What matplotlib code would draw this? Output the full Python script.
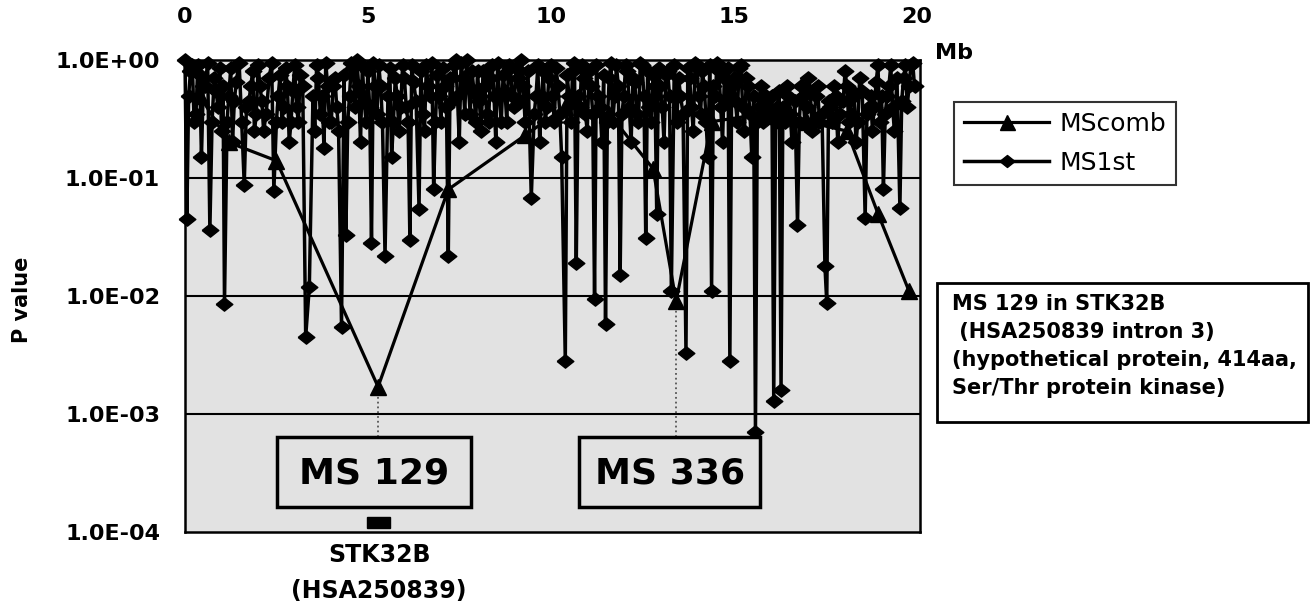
import matplotlib
matplotlib.use('Agg')
import matplotlib.pyplot as plt
from matplotlib.patches import Rectangle
from matplotlib.ticker import NullLocator

# ---------------- data ----------------
x_ticks = [0, 5, 10, 15, 20]
x_tick_labels = ['0', '5', '10', '15', '20']
y_ticks = [1e-4, 1e-3, 1e-2, 1e-1, 1e0]
y_tick_labels = ['1.0E-04', '1.0E-03', '1.0E-02', '1.0E-01', '1.0E+00']

# MScomb (triangles)
comb_x = [0.4, 1.2, 2.5, 5.28, 7.2, 9.3, 10.4, 11.6, 12.8, 13.43, 14.4, 15.8, 17.0, 18.1, 18.95, 19.8]
comb_p = [0.5, 0.2, 0.14, 0.0017, 0.08, 0.23, 0.4, 0.35, 0.12, 0.009, 0.3, 0.35, 0.3, 0.25, 0.05, 0.011]

# MS1st (diamonds) - markers with clear low values
ms1_x = [0.00, 0.05, 0.15, 0.25, 0.35, 0.45, 0.55, 0.68, 0.80, 0.90,
         1.00, 1.08, 1.20, 1.30, 1.40, 1.55, 1.62, 1.75, 1.85, 1.95,
         2.05, 2.15, 2.30, 2.43, 2.55, 2.65, 2.75, 2.85, 2.95,
         3.05, 3.15, 3.30, 3.40, 3.50, 3.60, 3.70, 3.80, 3.90,
         4.00, 4.10, 4.20, 4.28, 4.40, 4.50, 4.60, 4.70, 4.80, 4.90,
         5.00, 5.10, 5.20, 5.30, 5.40, 5.47, 5.55, 5.65, 5.75, 5.85, 5.95,
         6.05, 6.15, 6.25, 6.40, 6.50, 6.60, 6.70, 6.80, 6.90,
         7.00, 7.10, 7.20, 7.30, 7.40, 7.50, 7.60, 7.70, 7.80, 7.90,
         8.00, 8.10, 8.20, 8.30, 8.40, 8.50, 8.60, 8.70, 8.80, 8.90,
         9.00, 9.10, 9.20, 9.30, 9.47, 9.60, 9.70, 9.80, 9.90,
         10.0, 10.1, 10.2, 10.3, 10.4, 10.5, 10.6, 10.7, 10.8, 10.9,
         11.0, 11.1, 11.2, 11.3, 11.4, 11.5, 11.6, 11.7, 11.8, 11.9,
         12.0, 12.1, 12.2, 12.3, 12.4, 12.5, 12.6, 12.7, 12.8, 12.9,
         13.0, 13.1, 13.2, 13.3, 13.45, 13.55, 13.7, 13.8, 13.9,
         14.0, 14.1, 14.2, 14.3, 14.4, 14.5, 14.6, 14.7, 14.8, 14.9,
         15.0, 15.1, 15.2, 15.3, 15.4, 15.5, 15.6, 15.7, 15.8, 15.9,
         16.0, 16.1, 16.2, 16.3, 16.4, 16.5, 16.6, 16.75, 16.85, 16.95,
         17.05, 17.15, 17.25, 17.35, 17.5, 17.55, 17.65, 17.75, 17.85, 17.95,
         18.05, 18.15, 18.25, 18.35, 18.45, 18.6, 18.7, 18.8, 18.9,
         19.0, 19.1, 19.2, 19.3, 19.4, 19.55, 19.65, 19.75, 19.85, 19.95]
ms1_p = [1.0, 0.045, 0.8, 0.3, 0.9, 0.15, 0.6, 0.036, 0.7, 0.4,
         0.25, 0.0085, 0.5, 0.2, 0.65, 0.3, 0.088, 0.45, 0.8, 0.35,
         0.6, 0.25, 0.7, 0.078, 0.5, 0.3, 0.85, 0.2, 0.55,
         0.4, 0.75, 0.0045, 0.012, 0.5, 0.9, 0.35, 0.18, 0.6,
         0.3, 0.7, 0.25, 0.0055, 0.033, 0.5, 0.85, 1.0, 0.2, 0.45,
         0.8, 0.028, 0.6, 0.9, 0.3, 0.022, 0.5, 0.15, 0.7, 0.25, 0.9,
         0.4, 0.03, 0.65, 0.055, 0.35, 0.9, 0.5, 0.08, 0.75,
         0.3, 0.6, 0.022, 0.45, 1.0, 0.2, 0.7, 1.0, 0.35, 0.55,
         0.8, 0.25, 0.6, 0.3, 0.9, 0.2, 0.5, 0.75, 0.3, 0.85,
         0.4, 0.7, 1.0, 0.3, 0.068, 0.5, 0.2, 0.8, 0.4,
         0.9, 0.3, 0.6, 0.15, 0.0028, 0.5, 0.8, 0.019, 0.4, 0.7,
         0.25, 0.6, 0.0094, 0.5, 0.2, 0.0058, 0.7, 0.3, 0.9, 0.015,
         0.5, 0.8, 0.2, 0.65, 0.3, 0.9, 0.031, 0.4, 0.75, 0.05,
         0.6, 0.2, 0.8, 0.011, 0.3, 0.5, 0.0033, 0.7, 0.25,
         0.9, 0.35, 0.6, 0.15, 0.011, 0.5, 0.8, 0.2, 0.45, 0.0028,
         0.7, 0.3, 0.9, 0.25, 0.6, 0.15, 0.0007, 0.4, 0.3, 0.5,
         0.35, 0.0013, 0.4, 0.0016, 0.3, 0.5, 0.2, 0.04, 0.6, 0.3,
         0.7, 0.25, 0.5, 0.3, 0.018, 0.0088, 0.4, 0.6, 0.2, 0.45,
         0.8, 0.3, 0.55, 0.2, 0.7, 0.046, 0.4, 0.25, 0.65,
         0.3, 0.08, 0.5, 0.9, 0.25, 0.056, 0.7, 0.4, 0.9, 0.6]

# MS1st (diamonds) - further markers inside the dense upper band
ms1_band_x = [0.10, 0.20, 0.30, 0.40, 0.50, 0.62, 0.74, 0.85, 0.95,
              1.04, 1.15, 1.25, 1.35, 1.48, 1.68, 1.80, 1.90,
              2.00, 2.10, 2.22, 2.37, 2.50, 2.60, 2.70, 2.80, 2.90,
              3.00, 3.10, 3.22, 3.55, 3.65, 3.75, 3.85, 3.95,
              4.05, 4.15, 4.35, 4.45, 4.55, 4.65, 4.75, 4.85, 4.95,
              5.05, 5.15, 5.25, 5.35, 5.60, 5.70, 5.80, 5.90,
              6.00, 6.10, 6.20, 6.32, 6.45, 6.55, 6.65, 6.75, 6.85, 6.95,
              7.05, 7.15, 7.25, 7.35, 7.45, 7.55, 7.65, 7.75, 7.85, 7.95,
              8.05, 8.15, 8.25, 8.35, 8.45, 8.55, 8.65, 8.75, 8.85, 8.95,
              9.05, 9.15, 9.25, 9.38, 9.55, 9.65, 9.75, 9.85, 9.95,
              10.05, 10.15, 10.25, 10.45, 10.55, 10.65, 10.75, 10.85, 10.95,
              11.05, 11.15, 11.25, 11.35, 11.45, 11.55, 11.65, 11.75, 11.85, 11.95,
              12.05, 12.15, 12.25, 12.35, 12.45, 12.55, 12.65, 12.75, 12.85, 12.95,
              13.05, 13.15, 13.25, 13.38, 13.5, 13.62, 13.75, 13.85, 13.95,
              14.05, 14.15, 14.25, 14.35, 14.45, 14.55, 14.65, 14.75, 14.85, 14.95,
              15.05, 15.15, 15.25, 15.35, 15.45, 15.55, 15.65, 15.75, 15.85, 15.95,
              16.05, 16.15, 16.25, 16.35, 16.45, 16.55, 16.68, 16.8, 16.9,
              17.0, 17.1, 17.2, 17.3, 17.42, 17.6, 17.7, 17.8, 17.9,
              18.0, 18.1, 18.2, 18.3, 18.4, 18.52, 18.65, 18.75, 18.85, 18.95,
              19.05, 19.15, 19.25, 19.35, 19.47, 19.6, 19.7, 19.8, 19.9]
ms1_band_p = [0.5, 0.9, 0.35, 0.75, 0.6, 0.95, 0.3, 0.55, 0.85,
              0.6, 0.3, 0.85, 0.45, 0.95, 0.4, 0.6, 0.25,
              0.9, 0.45, 0.35, 0.95, 0.3, 0.75, 0.4, 0.6, 0.3,
              0.9, 0.3, 0.6, 0.25, 0.7, 0.5, 0.95, 0.3,
              0.6, 0.4, 0.75, 0.3, 0.95, 0.4, 0.6, 0.9, 0.3,
              0.4, 0.95, 0.35, 0.6, 0.85, 0.3, 0.5, 0.4,
              0.7, 0.3, 0.9, 0.45, 0.8, 0.25, 0.6, 0.95, 0.3, 0.5,
              0.85, 0.4, 0.7, 0.9, 0.5, 0.95, 0.35, 0.6, 0.8, 0.3,
              0.45, 0.8, 0.35, 0.7, 0.5, 0.95, 0.3, 0.55, 0.9, 0.5,
              0.85, 0.45, 0.6, 0.8, 0.35, 0.9, 0.5, 0.3, 0.7,
              0.5, 0.85, 0.35, 0.75, 0.3, 0.95, 0.5, 0.9, 0.35,
              0.8, 0.35, 0.9, 0.4, 0.75, 0.3, 0.95, 0.5, 0.6, 0.35,
              0.9, 0.4, 0.7, 0.35, 0.95, 0.5, 0.8, 0.3, 0.6, 0.85,
              0.4, 0.75, 0.5, 0.9, 0.7, 0.35, 0.85, 0.4, 0.95,
              0.5, 0.8, 0.3, 0.9, 0.6, 0.95, 0.4, 0.7, 0.85, 0.6,
              0.45, 0.85, 0.4, 0.7, 0.35, 0.5, 0.3, 0.6, 0.45, 0.35,
              0.5, 0.3, 0.55, 0.4, 0.6, 0.35, 0.45, 0.3, 0.5,
              0.4, 0.55, 0.3, 0.6, 0.35, 0.45, 0.3, 0.5, 0.35,
              0.45, 0.6, 0.35, 0.5, 0.3, 0.55, 0.35, 0.5, 0.4, 0.9,
              0.5, 0.35, 0.6, 0.4, 0.7, 0.45, 0.9, 0.6, 0.95]

gene_start, gene_end = 4.98, 5.60   # STK32B position (Mb)
ms129_pos, ms336_pos = 5.28, 13.43

# MS1st series ordered by position
ms1_pts = sorted(zip(ms1_x + ms1_band_x, ms1_p + ms1_band_p))
ms1_all_x = [p[0] for p in ms1_pts]
ms1_all_p = [p[1] for p in ms1_pts]

# ---------------- figure ----------------
W, H = 1310, 612
fig = plt.figure(figsize=(W / 100, H / 100), dpi=100)
fx = lambda px: px / W
fy = lambda py: 1 - py / H

BG = '#e2e2e2'
ax = fig.add_axes([fx(185), fy(532), fx(920) - fx(185), fy(60) - fy(532)])
ax.set_facecolor(BG)
ax.set_yscale('log')
ax.set_ylim(1e-4, 1)
ax.set_xlim(0, 20.1)
for s in ax.spines.values():
    s.set_linewidth(1.8)
    s.set_color('black')

for v in y_ticks[1:-1]:
    ax.axhline(v, color='black', lw=1.5, zorder=1)

diamond = [(-1, 0), (0, 0.8), (1, 0), (0, -0.8), (-1, 0)]
l1, = ax.plot(comb_x, comb_p, color='black', lw=2.3, marker='^', ms=12,
              zorder=3, clip_on=False, label='MScomb')
l2, = ax.plot(ms1_all_x, ms1_all_p, color='black', lw=2.5, marker=diamond, ms=12,
              zorder=4, clip_on=False, label='MS1st')

# dotted guide lines
ax.plot([ms129_pos, ms129_pos], [6.4e-4, 1.6e-3], ls=':', color='#555555', lw=1.3, zorder=2)
ax.plot([ms336_pos, ms336_pos], [6.4e-4, 9e-3], ls=':', color='#555555', lw=1.3, zorder=2)

# gene block
ax.add_patch(Rectangle((gene_start, 1.08e-4), gene_end - gene_start, 1.34e-4 - 1.08e-4,
                       color='black', zorder=5))

ax.xaxis.tick_top()
ax.set_xticks(x_ticks)
ax.set_xticklabels(x_tick_labels, fontsize=16, fontweight='bold')
ax.set_yticks(y_ticks)
ax.set_yticklabels(y_tick_labels, fontsize=16, fontweight='bold')
ax.yaxis.set_minor_locator(NullLocator())
ax.tick_params(axis='x', length=0, pad=24)
ax.tick_params(axis='y', length=0, pad=18)

fig.text(fx(935), fy(53), 'Mb', ha='left', va='center', fontsize=16, fontweight='bold')
fig.text(fx(22), fy(300), 'P value', ha='center', va='center', rotation=90,
         fontsize=15, fontweight='bold')

# legend
leg = fig.legend([l1, l2], ['MScomb', 'MS1st'], loc='upper left',
                 bbox_to_anchor=(fx(954), fy(102)), frameon=True, fancybox=False,
                 edgecolor='black', fontsize=18, handlelength=3.4, handletextpad=0.4,
                 labelspacing=0.6, borderpad=0.4, borderaxespad=0, markerscale=0.9)
leg.get_frame().set_linewidth(1.5)

# boxes
def box(x0, y0, x1, y1, fc, lw):
    fig.add_artist(Rectangle((fx(x0), fy(y1)), fx(x1) - fx(x0), fy(y0) - fy(y1),
                             transform=fig.transFigure, facecolor=fc, edgecolor='black',
                             lw=lw, zorder=10))

box(277, 437, 471, 507, BG, 2.5)
fig.text(fx(374), fy(473), 'MS 129', ha='center', va='center', fontsize=26,
         fontweight='bold', zorder=11)
box(579, 437, 760, 507, BG, 2.5)
fig.text(fx(670), fy(473), 'MS 336', ha='center', va='center', fontsize=26,
         fontweight='bold', zorder=11)

box(937, 283, 1308, 422, 'white', 2.0)
fig.text(fx(952), fy(294), 'MS 129 in STK32B\n (HSA250839 intron 3)\n(hypothetical protein, 414aa,\nSer/Thr protein kinase)',
         ha='left', va='top', fontsize=15, fontweight='bold', linespacing=1.5, zorder=11)

fig.text(fx(379), fy(555), 'STK32B', ha='center', va='center', fontsize=17, fontweight='bold')
fig.text(fx(379), fy(591), '(HSA250839)', ha='center', va='center', fontsize=17, fontweight='bold')

fig.savefig('out.png', dpi=100)
